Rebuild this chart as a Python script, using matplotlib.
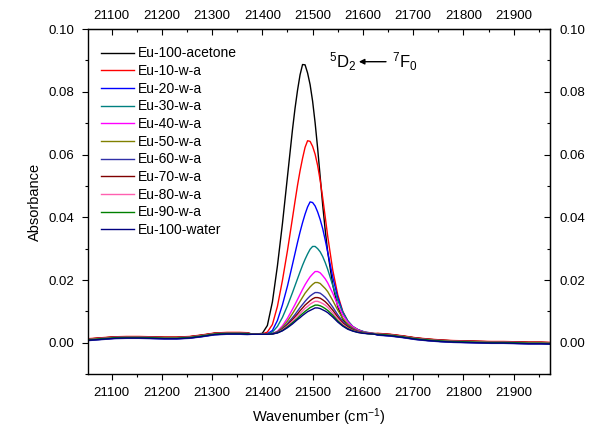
import numpy as np
import matplotlib
matplotlib.use("Agg")
import matplotlib.pyplot as plt
from matplotlib.ticker import MultipleLocator

plt.rcParams['font.family'] = ['Liberation Sans', 'DejaVu Sans']
plt.rcParams['mathtext.fontset'] = 'custom'
plt.rcParams['mathtext.rm'] = 'Liberation Sans'
plt.rcParams['mathtext.it'] = 'Liberation Sans:italic'

# ---- data -------------------------------------------------------------
labels = ["Eu-100-acetone", "Eu-10-w-a", "Eu-20-w-a", "Eu-30-w-a", "Eu-40-w-a",
          "Eu-50-w-a", "Eu-60-w-a", "Eu-70-w-a", "Eu-80-w-a", "Eu-90-w-a",
          "Eu-100-water"]
colors = ["#000000", "#FF0000", "#0000FF", "#008080", "#FF00FF", "#808000",
          "#3030A8", "#800000", "#FF60B0", "#008000", "#000080"]

# shared baseline outside the band
left_x = [21055, 21080, 21105, 21130, 21155, 21180, 21205, 21230, 21255, 21280,
          21305, 21330, 21355, 21370]
left_y = [0.0010, 0.0013, 0.0016, 0.0017, 0.0017, 0.0016, 0.0015, 0.0015, 0.0017,
          0.0022, 0.0028, 0.0030, 0.0030, 0.0029]
right_x = [21630, 21655, 21680, 21705, 21730, 21755, 21780, 21805, 21830, 21855,
           21880, 21905, 21930, 21955, 21975]
right_y = [0.0027, 0.0024, 0.0019, 0.0013, 0.0009, 0.0006, 0.0004, 0.0003, 0.0002,
           0.0001, 0.0001, 0.0000, -0.0001, -0.0001, -0.0002]
# small per-sample baseline differences
base_offset = [0.0002, 0.0003, -0.0002, 0.0001, 0.0000, -0.0001, -0.0003, 0.0002,
               0.0001, 0.0000, -0.0002]

# band region 21380..21620
band_x = [21380, 21390, 21400, 21410, 21420, 21430, 21440, 21450, 21460,
          21465, 21470, 21475, 21480, 21485, 21490, 21495, 21500, 21505, 21510,
          21515, 21520, 21525, 21530,
          21540, 21550, 21560, 21570, 21580, 21590, 21600, 21610, 21620]
acetone = [0.0028, 0.0028, 0.0030, 0.0055, 0.0130, 0.0245, 0.0380, 0.0530, 0.0680,
           0.0747, 0.0805, 0.0854, 0.0887, 0.0886, 0.0860, 0.0823, 0.0770, 0.0701, 0.0620,
           0.0530, 0.0440, 0.0360, 0.0290,
           0.0185, 0.0115, 0.0075, 0.0055, 0.0044, 0.0036, 0.0031, 0.0029, 0.0028]
wa10 = [0.0027, 0.0027, 0.0028, 0.0034, 0.0058, 0.0116, 0.0199, 0.0294, 0.0398,
        0.0451, 0.0502, 0.0548, 0.0588, 0.0623, 0.0644, 0.0642, 0.0626, 0.0601, 0.0565,
        0.0518, 0.0463, 0.0402, 0.0340,
        0.0232, 0.0153, 0.0100, 0.0069, 0.0051, 0.0042, 0.0035, 0.0031, 0.0029]
wa20 = [0.0027, 0.0027, 0.0027, 0.0029, 0.0039, 0.0071, 0.0121, 0.0181, 0.0250,
        0.0285, 0.0320, 0.0353, 0.0383, 0.0410, 0.0433, 0.0449, 0.0447, 0.0436, 0.0417,
        0.0393, 0.0364, 0.0328, 0.0289,
        0.0209, 0.0144, 0.0098, 0.0068, 0.0050, 0.0041, 0.0036, 0.0031, 0.0029]
wa30 = [0.0027, 0.0027, 0.0027, 0.0028, 0.0034, 0.0052, 0.0081, 0.0118, 0.0160,
        0.0182, 0.0204, 0.0226, 0.0247, 0.0266, 0.0283, 0.0298, 0.0307, 0.0307, 0.0300,
        0.0290, 0.0275, 0.0256, 0.0234,
        0.0183, 0.0135, 0.0097, 0.0070, 0.0052, 0.0042, 0.0036, 0.0033, 0.0030]
wa40 = [0.0027, 0.0027, 0.0027, 0.0027, 0.0029, 0.0037, 0.0054, 0.0078, 0.0107,
        0.0122, 0.0138, 0.0154, 0.0170, 0.0185, 0.0198, 0.0210, 0.0219, 0.0227, 0.0227,
        0.0223, 0.0214, 0.0204, 0.0191,
        0.0158, 0.0120, 0.0088, 0.0066, 0.0051, 0.0041, 0.0035, 0.0032, 0.0030]
wa50 = [0.0027, 0.0027, 0.0027, 0.0027, 0.0029, 0.0035, 0.0049, 0.0069, 0.0093,
        0.0106, 0.0119, 0.0132, 0.0145, 0.0158, 0.0168, 0.0178, 0.0186, 0.0192, 0.0192,
        0.0189, 0.0181, 0.0173, 0.0163,
        0.0135, 0.0104, 0.0078, 0.0059, 0.0046, 0.0038, 0.0034, 0.0031, 0.0030]
wa60 = [0.0027, 0.0027, 0.0027, 0.0027, 0.0029, 0.0034, 0.0045, 0.0061, 0.0080,
        0.0090, 0.0101, 0.0112, 0.0122, 0.0132, 0.0141, 0.0149, 0.0155, 0.0160, 0.0160,
        0.0158, 0.0152, 0.0145, 0.0136,
        0.0114, 0.0089, 0.0068, 0.0053, 0.0043, 0.0036, 0.0033, 0.0031, 0.0029]
wa70 = [0.0027, 0.0027, 0.0027, 0.0027, 0.0028, 0.0033, 0.0043, 0.0057, 0.0074,
        0.0083, 0.0092, 0.0102, 0.0111, 0.0120, 0.0127, 0.0134, 0.0140, 0.0144, 0.0144,
        0.0142, 0.0137, 0.0131, 0.0123,
        0.0104, 0.0082, 0.0063, 0.0050, 0.0041, 0.0035, 0.0032, 0.0030, 0.0029]
wa80 = [0.0027, 0.0027, 0.0027, 0.0027, 0.0028, 0.0032, 0.0041, 0.0054, 0.0069,
        0.0077, 0.0085, 0.0093, 0.0102, 0.0110, 0.0116, 0.0123, 0.0128, 0.0132, 0.0132,
        0.0129, 0.0125, 0.0120, 0.0113,
        0.0095, 0.0076, 0.0059, 0.0047, 0.0039, 0.0034, 0.0031, 0.0030, 0.0029]
wa90 = [0.0027, 0.0027, 0.0027, 0.0027, 0.0028, 0.0032, 0.0039, 0.0051, 0.0064,
        0.0071, 0.0078, 0.0086, 0.0093, 0.0100, 0.0106, 0.0112, 0.0116, 0.0120, 0.0120,
        0.0118, 0.0114, 0.0109, 0.0103,
        0.0088, 0.0070, 0.0055, 0.0045, 0.0038, 0.0033, 0.0031, 0.0029, 0.0028]
water = [0.0027, 0.0027, 0.0027, 0.0027, 0.0028, 0.0031, 0.0038, 0.0048, 0.0060,
         0.0067, 0.0074, 0.0080, 0.0087, 0.0093, 0.0099, 0.0103, 0.0107, 0.0111, 0.0111,
         0.0109, 0.0105, 0.0101, 0.0096,
         0.0082, 0.0066, 0.0053, 0.0043, 0.0037, 0.0033, 0.0030, 0.0029, 0.0028]
band_series = [acetone, wa10, wa20, wa30, wa40, wa50, wa60, wa70, wa80, wa90, water]

x_ticks = [21100, 21200, 21300, 21400, 21500, 21600, 21700, 21800, 21900]
y_ticks = [0.00, 0.02, 0.04, 0.06, 0.08, 0.10]

# ---- figure -----------------------------------------------------------
fig = plt.figure(figsize=(5.9, 4.34), dpi=100)
ax = fig.add_axes([0.149, 0.138, 0.783, 0.795])

for lab, col, band, off in zip(labels, colors, band_series, base_offset):
    xs = list(left_x) + list(band_x) + list(right_x)
    ys = [v + off for v in left_y] + list(band) + [v + off for v in right_y]
    ax.plot(xs, ys, color=col, lw=1.0, label=lab)

xlim = (21053, 21972)
ylim = (-0.01, 0.10)
ax.set_xlim(*xlim)
ax.set_ylim(*ylim)
ax.set_xticks(x_ticks)
ax.set_yticks(y_ticks)
ax.set_yticklabels([f"{v:.2f}" for v in y_ticks])
ax.xaxis.set_minor_locator(MultipleLocator(50))
ax.yaxis.set_minor_locator(MultipleLocator(0.01))
ax.tick_params(which='both', direction='out', labelsize=9.5, width=0.8, pad=5)
ax.tick_params(which='major', length=4.5)
ax.tick_params(which='minor', length=2.5)

top = ax.secondary_xaxis('top')
top.set_xticks(x_ticks)
top.xaxis.set_minor_locator(MultipleLocator(50))
top.tick_params(which='both', direction='in', labelsize=9.5, width=0.8, pad=5)
top.tick_params(which='major', length=4.5)
top.tick_params(which='minor', length=2.5)

right = ax.secondary_yaxis('right')
right.set_yticks(y_ticks)
right.set_yticklabels([f"{v:.2f}" for v in y_ticks])
right.yaxis.set_minor_locator(MultipleLocator(0.01))
right.tick_params(which='both', direction='in', labelsize=9.5, width=0.8, pad=7)
right.tick_params(which='major', length=4.5)
right.tick_params(which='minor', length=2.5)

for sp in ax.spines.values():
    sp.set_linewidth(1.0)

ax.set_xlabel(r"Wavenumber (cm$^{-1}$)", fontsize=10.5, labelpad=5)
ax.set_ylabel("Absorbance", fontsize=10.5, labelpad=5)

leg = ax.legend(loc='upper left', bbox_to_anchor=(0.016, 0.966), borderaxespad=0,
                frameon=False, fontsize=10, handlelength=2.4,
                labelspacing=0.265, handletextpad=0.3)

ax.text(21532, 0.0895, r"$^{5}$D$_{2}$", fontsize=12, va='center', ha='left')
ax.annotate("", xy=(21592, 0.0896), xytext=(21646, 0.0896),
            arrowprops=dict(arrowstyle='-|>', color='black', lw=1.0,
                            mutation_scale=8, shrinkA=0, shrinkB=0))
ax.text(21657, 0.0895, r"$^{7}$F$_{0}$", fontsize=12, va='center', ha='left')

fig.savefig("out.png", dpi=100)
